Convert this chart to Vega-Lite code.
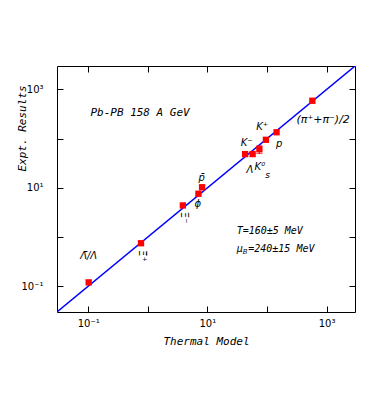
{
  "$schema": "https://vega.github.io/schema/vega-lite/v6.json",
  "width": 298,
  "height": 246,
  "autosize": "none",
  "padding": {"left": 57, "top": 66, "right": 27, "bottom": 97},
  "background": "white",
  "config": {
    "view": {"stroke": "black", "strokeWidth": 1},
    "axis": {
      "domain": false,
      "grid": false,
      "tickColor": "black",
      "tickSize": -6,
      "tickWidth": 1,
      "labelFont": "DejaVu Sans",
      "labelFontSize": 10,
      "labelColor": "black",
      "titleFont": "DejaVu Sans Mono",
      "titleFontStyle": "italic",
      "titleFontWeight": "normal",
      "titleFontSize": 11,
      "titleColor": "black"
    }
  },
  "datasets": {
    "pts": [
      {"name": "anti-Lambda/Lambda", "model": 0.102, "expt": 0.12},
      {"name": "Xi+", "model": 0.77, "expt": 0.75},
      {"name": "Xi-", "model": 3.88, "expt": 4.4},
      {"name": "phi", "model": 7.08, "expt": 7.6},
      {"name": "pbar", "model": 8.15, "expt": 10.3},
      {"name": "K-", "model": 43, "expt": 48.6},
      {"name": "Lambda", "model": 57.5, "expt": 48.6},
      {"name": "K0s", "model": 74.6, "expt": 61, "lo": 50, "hi": 72},
      {"name": "p", "model": 96, "expt": 95},
      {"name": "K+", "model": 145, "expt": 135},
      {"name": "pi", "model": 578, "expt": 590}
    ],
    "diag": [
      {"model": 0.03, "expt": 0.03},
      {"model": 3000, "expt": 3000}
    ],
    "notes": [
      {"t": "Pb-PB 158 A GeV", "lx": 0.109, "ly": 327, "size": 11},
      {"t": "T=160±5  MeV", "lx": 31, "ly": 1.33, "size": 10},
      {"t": "μ", "lx": 31, "ly": 0.567, "size": 10},
      {"t": "=240±15 MeV", "lx": 48.5, "ly": 0.567, "size": 10}
    ],
    "pion": [
      {"t": "(π⁺+π⁻)/2", "lx": 313, "ly": 240}
    ],
    "labels": [
      {"t": "K⁺", "lx": 83, "ly": 176},
      {"t": "p", "lx": 160, "ly": 77},
      {"t": "K⁻", "lx": 45.6, "ly": 81},
      {"t": "Λ", "lx": 52, "ly": 22.7},
      {"t": "K⁰", "lx": 76, "ly": 27},
      {"t": "p̄", "lx": 8.05, "ly": 15.8},
      {"t": "ϕ", "lx": 6.9, "ly": 4.6},
      {"t": "Λ̄/Λ", "lx": 0.102, "ly": 0.415}
    ],
    "subs": [
      {"t": "B", "lx": 43.2, "ly": 0.5, "size": 7},
      {"t": "s", "lx": 102, "ly": 18.5, "size": 9}
    ],
    "rot": [
      {"t": "Ξ⁻", "lx": 4.0, "ly": 2.48},
      {"t": "Ξ̄⁺", "lx": 0.8, "ly": 0.415}
    ]
  },
  "resolve": {"axis": {"x": "independent", "y": "independent"}},
  "layer": [
    {
      "data": {"name": "diag"},
      "mark": {"type": "line", "color": "#0000ff", "strokeWidth": 1.4, "clip": true},
      "encoding": {
        "x": {
          "field": "model", "type": "quantitative",
          "scale": {"type": "log", "domain": [0.03, 3000], "nice": false, "zero": false},
          "axis": {
            "orient": "bottom", "title": "Thermal Model",
            "values": [0.1, 1, 10, 100, 1000],
            "labelExpr": "datum.value == 0.1 ? '10⁻¹' : datum.value == 10 ? '10¹' : datum.value == 1000 ? '10³' : ''",
            "labelPadding": 12, "titlePadding": 7
          }
        },
        "y": {
          "field": "expt", "type": "quantitative",
          "scale": {"type": "log", "domain": [0.03, 3000], "nice": false, "zero": false},
          "axis": {
            "orient": "left", "title": "Expt. Results",
            "values": [0.1, 1, 10, 100, 1000],
            "labelExpr": "datum.value == 0.1 ? '10⁻¹' : datum.value == 10 ? '10¹' : datum.value == 1000 ? '10³' : ''",
            "labelPadding": 20, "titleY": 62, "titleX": -30
          }
        }
      }
    },
    {
      "data": {"name": "pts"},
      "mark": {"type": "rule", "color": "#ff0000", "strokeWidth": 1.2},
      "transform": [{"filter": "isValid(datum.lo)"}],
      "encoding": {
        "x": {"field": "model", "type": "quantitative", "scale": {"type": "log", "domain": [0.03, 3000], "nice": false, "zero": false},
          "axis": {"orient": "top", "title": null, "labels": false, "values": [0.1, 1, 10, 100, 1000]}},
        "y": {"field": "lo", "type": "quantitative", "scale": {"type": "log", "domain": [0.03, 3000], "nice": false, "zero": false},
          "axis": {"orient": "right", "title": null, "labels": false, "values": [0.1, 1, 10, 100, 1000]}},
        "y2": {"field": "hi"}
      }
    },
    {
      "data": {"name": "pts"},
      "mark": {"type": "tick", "color": "#ff0000", "orient": "horizontal", "size": 6, "thickness": 1.2},
      "transform": [{"filter": "isValid(datum.lo)"}, {"fold": ["lo", "hi"], "as": ["k", "v"]}],
      "encoding": {
        "x": {"field": "model", "type": "quantitative", "scale": {"type": "log", "domain": [0.03, 3000], "nice": false, "zero": false}, "axis": null},
        "y": {"field": "v", "type": "quantitative", "scale": {"type": "log", "domain": [0.03, 3000], "nice": false, "zero": false}, "axis": null}
      }
    },
    {
      "data": {"name": "pts"},
      "mark": {"type": "square", "color": "#ff0000", "opacity": 1, "size": 40},
      "encoding": {
        "x": {"field": "model", "type": "quantitative", "scale": {"type": "log", "domain": [0.03, 3000], "nice": false, "zero": false}, "axis": null},
        "y": {"field": "expt", "type": "quantitative", "scale": {"type": "log", "domain": [0.03, 3000], "nice": false, "zero": false}, "axis": null}
      }
    },
    {
      "data": {"name": "notes"},
      "mark": {"type": "text", "font": "DejaVu Sans Mono", "fontStyle": "italic", "color": "black", "baseline": "middle", "align": "left"},
      "encoding": {
        "x": {"field": "lx", "type": "quantitative", "scale": {"type": "log", "domain": [0.03, 3000], "nice": false, "zero": false}, "axis": null},
        "y": {"field": "ly", "type": "quantitative", "scale": {"type": "log", "domain": [0.03, 3000], "nice": false, "zero": false}, "axis": null},
        "text": {"field": "t"},
        "size": {"field": "size", "type": "quantitative", "scale": null}
      }
    },
    {
      "data": {"name": "pion"},
      "mark": {"type": "text", "font": "DejaVu Sans", "fontStyle": "italic", "fontSize": 11, "color": "black", "baseline": "middle", "align": "left"},
      "encoding": {
        "x": {"field": "lx", "type": "quantitative", "scale": {"type": "log", "domain": [0.03, 3000], "nice": false, "zero": false}, "axis": null},
        "y": {"field": "ly", "type": "quantitative", "scale": {"type": "log", "domain": [0.03, 3000], "nice": false, "zero": false}, "axis": null},
        "text": {"field": "t"}
      }
    },
    {
      "data": {"name": "labels"},
      "mark": {"type": "text", "font": "DejaVu Sans", "fontStyle": "italic", "fontSize": 10, "color": "black", "baseline": "middle", "align": "center"},
      "encoding": {
        "x": {"field": "lx", "type": "quantitative", "scale": {"type": "log", "domain": [0.03, 3000], "nice": false, "zero": false}, "axis": null},
        "y": {"field": "ly", "type": "quantitative", "scale": {"type": "log", "domain": [0.03, 3000], "nice": false, "zero": false}, "axis": null},
        "text": {"field": "t"}
      }
    },
    {
      "data": {"name": "subs"},
      "mark": {"type": "text", "font": "DejaVu Sans", "fontStyle": "italic", "color": "black", "baseline": "middle", "align": "center"},
      "encoding": {
        "x": {"field": "lx", "type": "quantitative", "scale": {"type": "log", "domain": [0.03, 3000], "nice": false, "zero": false}, "axis": null},
        "y": {"field": "ly", "type": "quantitative", "scale": {"type": "log", "domain": [0.03, 3000], "nice": false, "zero": false}, "axis": null},
        "text": {"field": "t"},
        "size": {"field": "size", "type": "quantitative", "scale": null}
      }
    },
    {
      "data": {"name": "rot"},
      "mark": {"type": "text", "font": "DejaVu Sans", "fontSize": 10, "angle": 90, "color": "black", "baseline": "middle", "align": "center"},
      "encoding": {
        "x": {"field": "lx", "type": "quantitative", "scale": {"type": "log", "domain": [0.03, 3000], "nice": false, "zero": false}, "axis": null},
        "y": {"field": "ly", "type": "quantitative", "scale": {"type": "log", "domain": [0.03, 3000], "nice": false, "zero": false}, "axis": null},
        "text": {"field": "t"}
      }
    }
  ]
}
